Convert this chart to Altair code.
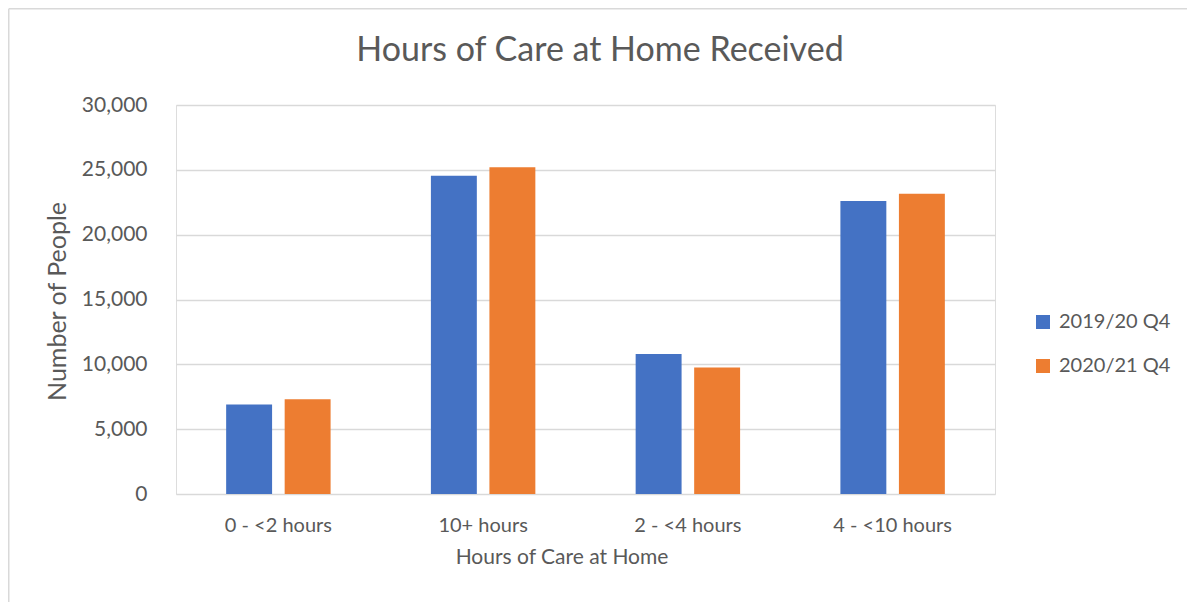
import altair as alt
import pandas as pd

categories = ["0 - <2 hours", "10+ hours", "2 - <4 hours", "4 - <10 hours"]
series = ["2019/20 Q4", "2020/21 Q4"]
values_2019 = [6900, 24550, 10800, 22600]
values_2020 = [7300, 25200, 9750, 23150]
y_ticks = [0, 5000, 10000, 15000, 20000, 25000, 30000]
colors = ["#4472C4", "#ED7D31"]

rows = []
for c, a, b in zip(categories, values_2019, values_2020):
    rows.append({"cat": c, "series": series[0], "value": a})
    rows.append({"cat": c, "series": series[1], "value": b})
df = pd.DataFrame(rows)

FONT = "Lato"
TXT = "#595959"
GRID = "#d9d9d9"

W, H = 819, 389
PL, PT = 168, 97
TOTW, TOTH = 1179, 594

bars = alt.Chart(df).mark_bar().encode(
    x=alt.X("cat:N", sort=categories,
            scale=alt.Scale(paddingInner=0, paddingOuter=0),
            axis=alt.Axis(title="Hours of Care at Home", labelAngle=0, domain=False,
                          ticks=False, tickSize=0, grid=False, labelPadding=21,
                          labelFontSize=20, labelColor=TXT, labelFont=FONT,
                          titleFontSize=21, titleColor=TXT, titleFont=FONT,
                          titleFontWeight="normal", titleX=385.5, titleY=69,
                          titleBaseline="alphabetic")),
    xOffset=alt.XOffset("series:N", sort=series,
                        scale=alt.Scale(paddingInner=0.215, paddingOuter=0.857)),
    y=alt.Y("value:Q",
            scale=alt.Scale(domain=[0, 30000], nice=False),
            axis=alt.Axis(title="Number of People", values=y_ticks, format=",.0f",
                          domain=False, ticks=False, tickSize=0, grid=True,
                          gridColor=GRID, gridWidth=1.3, labelPadding=29,
                          labelFontSize=21, labelColor=TXT, labelFont=FONT,
                          titleFontSize=25, titleColor=TXT, titleFont=FONT,
                          titleFontWeight="normal", titleX=-111, titleY=196,
                          titleAngle=-90, titleAlign="center",
                          titleBaseline="alphabetic")),
    color=alt.Color("series:N", sort=series,
                    scale=alt.Scale(domain=series, range=colors),
                    legend=alt.Legend(title=None, orient="none", legendX=857,
                                      legendY=207, padding=0, symbolType="square",
                                      symbolSize=196, symbolStrokeWidth=0,
                                      labelFontSize=20, labelColor=TXT,
                                      labelFont=FONT, labelOffset=6,
                                      rowPadding=24)),
)

border_top = alt.Chart(alt.Data(values=[{}])).mark_rule(
    color=GRID, strokeWidth=1.5).encode(
    x=alt.value(-PL + 0.75), x2=alt.value(TOTW - PL), y=alt.value(-PT + 0.75))
border_left = alt.Chart(alt.Data(values=[{}])).mark_rule(
    color=GRID, strokeWidth=1.5).encode(
    x=alt.value(-PL + 0.75), y=alt.value(-PT + 0.75), y2=alt.value(TOTH - PT))

chart = alt.layer(border_top, border_left, bars).properties(
    width=W, height=H,
    title=alt.Title("Hours of Care at Home Received", font=FONT, fontSize=34,
                    fontWeight="normal", color=TXT, anchor="middle",
                    frame="group", dx=14.5, offset=0, baseline="alphabetic",
                    dy=87),
    autosize=alt.AutoSizeParams(type="none"),
    padding={"left": PL, "top": PT, "right": TOTW - PL - W, "bottom": TOTH - PT - H},
).configure_view(stroke=None, strokeWidth=0, strokeOpacity=0).configure_axisX(
    grid=False, domain=False, ticks=False
).configure(background="white")

chart.save("out.html", embed_options={"renderer": "svg", "actions": False})
